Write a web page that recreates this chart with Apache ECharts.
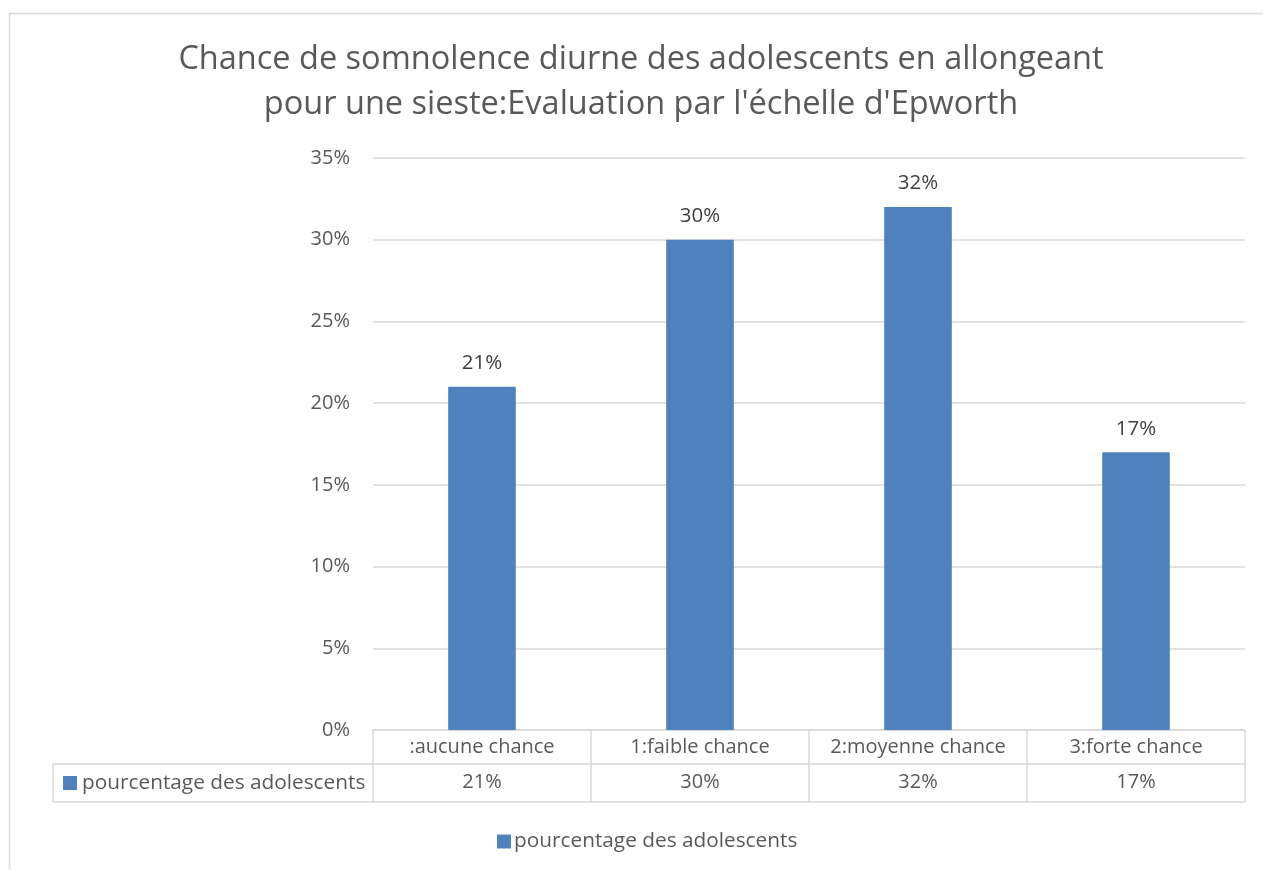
<!DOCTYPE html>
<html>
<head>
<meta charset="utf-8">
<script src="https://cdn.jsdelivr.net/npm/echarts@6/dist/echarts.min.js"></script>
<style>
  html, body { margin: 0; padding: 0; background: #fff; }
  #chart { width: 1263px; height: 870px; }
</style>
</head>
<body>
<div id="chart"></div>
<script>
// Epworth scale: chance of dozing while lying down for a nap
const titleLines = [
  "Chance de somnolence diurne des adolescents en allongeant",
  "pour une sieste:Evaluation par l'échelle d'Epworth"
];
const categories = [":aucune chance", "1:faible chance", "2:moyenne chance", "3:forte chance"];
const seriesName = "pourcentage des adolescents";
const values = [21, 30, 32, 17];
const yTicks = [0, 5, 10, 15, 20, 25, 30, 35];

const FONT = "Open Sans";
const TEXT = "#595959";
const LINE = "#d9d9d9";
const BAR = "#4f81bd";
const LABEL_SIZE = 20;
const KEY_SIZE = 20.8;

// plot area / data table geometry
const W = 1263, H = 870;
const plotLeft = 373, plotRight = 1245, plotTop = 158, plotBottom = 730;
const row1H = 34, row2H = 38;
const tableLeft = 53;
const titleCenterX = 641;

const chart = echarts.init(document.getElementById("chart"), null, { renderer: "canvas" });

const pct = v => v + "%";
const row2Top = plotBottom + row1H;
const row2Bottom = row2Top + row2H;

chart.setOption({
  animation: false,
  textStyle: { fontFamily: FONT },
  grid: { left: plotLeft, right: W - plotRight, top: plotTop, bottom: H - plotBottom, containLabel: false },
  legend: {
    data: [seriesName],
    top: 826,
    left: 492,
    icon: "rect",
    itemWidth: 14,
    itemHeight: 14,
    itemGap: 5,
    textStyle: { fontFamily: FONT, fontSize: KEY_SIZE, color: TEXT, padding: [0, 0, 0, -2] }
  },
  xAxis: [
    {
      type: "category",
      data: categories,
      axisLine: { show: true, lineStyle: { color: LINE, width: 1.5 } },
      axisTick: { show: true, length: row1H + row2H, lineStyle: { color: LINE, width: 1.5 } },
      axisLabel: { fontFamily: FONT, fontSize: LABEL_SIZE, color: TEXT, margin: 7, interval: 0 }
    },
    {
      type: "category",
      position: "bottom",
      offset: row1H,
      data: values.map(pct),
      axisLine: { show: false },
      axisTick: { show: false },
      axisLabel: { fontFamily: FONT, fontSize: LABEL_SIZE, color: TEXT, margin: 8, interval: 0 }
    }
  ],
  yAxis: {
    type: "value",
    min: 0,
    max: yTicks[yTicks.length - 1],
    interval: yTicks[1] - yTicks[0],
    axisLine: { show: false },
    axisTick: { show: false },
    splitLine: { lineStyle: { color: LINE, width: 1.5 } },
    axisLabel: { fontFamily: FONT, fontSize: LABEL_SIZE, color: TEXT, margin: 23, formatter: pct }
  },
  series: [{
    name: seriesName,
    type: "bar",
    data: values,
    barWidth: "31%",
    itemStyle: { color: BAR },
    label: {
      show: true,
      position: "top",
      distance: 13,
      formatter: p => pct(p.value),
      fontFamily: FONT,
      fontSize: 20.5,
      color: "#404040"
    }
  }],
  graphic: [
    // chart frame
    { type: "rect", silent: true, shape: { x: 9.5, y: 13.5, width: W + 20, height: H + 20 },
      style: { fill: null, stroke: LINE, lineWidth: 1.5 } },
    // two-line title
    { type: "text", silent: true, x: titleCenterX, y: 60,
      style: { text: titleLines[0], fill: TEXT, font: "32.5px '" + FONT + "'", align: "center", verticalAlign: "middle" } },
    { type: "text", silent: true, x: titleCenterX, y: 105,
      style: { text: titleLines[1], fill: TEXT, font: "32.5px '" + FONT + "'", align: "center", verticalAlign: "middle" } },
    // data table horizontal rules
    { type: "line", silent: true, shape: { x1: tableLeft, y1: row2Top, x2: plotRight, y2: row2Top },
      style: { stroke: LINE, lineWidth: 1.5 } },
    { type: "line", silent: true, shape: { x1: tableLeft, y1: row2Bottom, x2: plotRight, y2: row2Bottom },
      style: { stroke: LINE, lineWidth: 1.5 } },
    { type: "line", silent: true, shape: { x1: tableLeft, y1: row2Top, x2: tableLeft, y2: row2Bottom },
      style: { stroke: LINE, lineWidth: 1.5 } },
    // row header with legend key
    { type: "rect", silent: true, shape: { x: 63, y: row2Top + 12, width: 14, height: 14 },
      style: { fill: BAR } },
    { type: "text", silent: true, x: 82, y: row2Top + row2H / 2,
      style: { text: seriesName, fill: TEXT, font: KEY_SIZE + "px '" + FONT + "'", verticalAlign: "middle", align: "left" } }
  ]
});
</script>
</body>
</html>
